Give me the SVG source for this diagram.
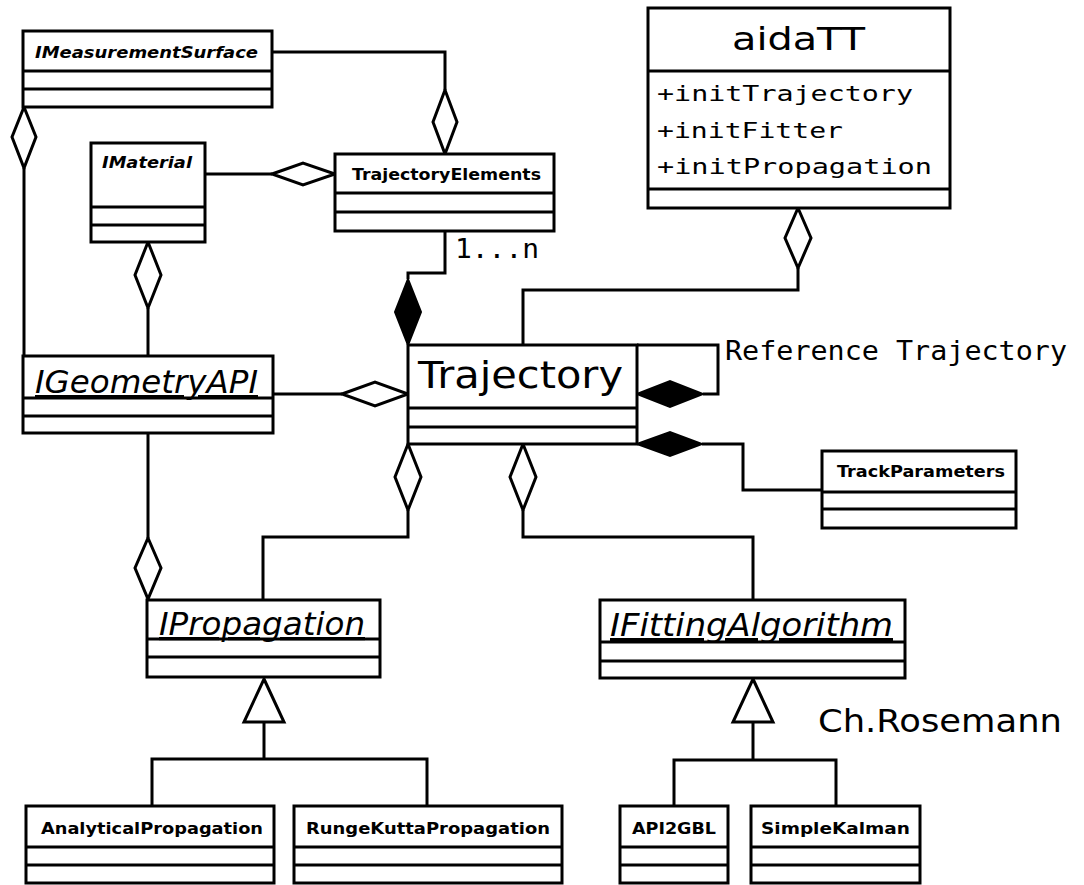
<svg xmlns="http://www.w3.org/2000/svg" width="1084" height="885" viewBox="0 0 1084 885">
  <style>
    .box { fill: #fff; stroke: #000; stroke-width: 3; }
    .sep { stroke: #000; stroke-width: 3; }
    .wire { fill: none; stroke: #000; stroke-width: 3; stroke-linejoin: miter; }
    .agg { fill: #fff; stroke: #000; stroke-width: 3; stroke-linejoin: miter; }
    .comp { fill: #000; stroke: #000; stroke-width: 2; stroke-linejoin: miter; }
    .gen { fill: #fff; stroke: #000; stroke-width: 3; stroke-linejoin: miter; }
    .small { font-family: "DejaVu Sans", sans-serif; font-weight: bold; font-size: 16px; fill: #000; }
    .smallit { font-family: "DejaVu Sans", sans-serif; font-weight: bold; font-style: italic; font-size: 15px; fill: #000; }
    .abs { font-family: "DejaVu Sans", sans-serif; font-style: italic; font-size: 32px; fill: #000; text-decoration: underline; }
    .big { font-family: "DejaVu Sans", sans-serif; font-size: 38px; fill: #000; }
    .mono { font-family: "DejaVu Sans Mono", monospace; font-size: 21px; fill: #000; }
    .label { font-family: "DejaVu Sans Mono", monospace; font-size: 26px; fill: #000; }
    .sign { font-family: "DejaVu Sans", sans-serif; font-size: 32px; fill: #000; }
  </style>

  <!-- connectors -->
  <g id="connectors">
    <!-- IMeasurementSurface -> TrajectoryElements -->
    <polyline class="wire" points="272,52 445,52 445,90"/>
    <polygon class="agg" points="445,90 457,122 445,154 433,122"/>
    <!-- IMeasurementSurface -> IGeometryAPI -->
    <polygon class="agg" points="24,107 36,137 24,168 12,137"/>
    <polyline class="wire" points="24,168 24,356"/>
    <!-- IMaterial -> TrajectoryElements -->
    <polyline class="wire" points="205,174 272,174"/>
    <polygon class="agg" points="272,174 303,163 335,174 303,185"/>
    <!-- IMaterial -> IGeometryAPI -->
    <polygon class="agg" points="148,242 161,275 148,308 135,275"/>
    <polyline class="wire" points="148,308 148,356"/>
    <!-- TrajectoryElements -> Trajectory (1...n) -->
    <polyline class="wire" points="445,231 445,273 408,273 408,279"/>
    <polygon class="comp" points="408,279 421,312 408,345 395,312"/>
    <!-- aidaTT -> Trajectory -->
    <polygon class="agg" points="798,208 811,238 798,268 785,238"/>
    <polyline class="wire" points="798,268 798,290 523,290 523,345"/>
    <!-- IGeometryAPI -> Trajectory -->
    <polyline class="wire" points="273,394 342,394"/>
    <polygon class="agg" points="342,394 375,382 408,394 375,406"/>
    <!-- Reference Trajectory self loop -->
    <polygon class="comp" points="637,394 670,381 703,394 670,407"/>
    <polyline class="wire" points="703,394 718,394 718,345 637,345"/>
    <!-- Trajectory -> TrackParameters -->
    <polygon class="comp" points="637,444 670,432 702,444 670,456"/>
    <polyline class="wire" points="702,444 743,444 743,490 822,490"/>
    <!-- Trajectory -> IPropagation -->
    <polygon class="agg" points="408,444 421,477 408,510 395,477"/>
    <polyline class="wire" points="408,510 408,537 263,537 263,600"/>
    <!-- Trajectory -> IFittingAlgorithm -->
    <polygon class="agg" points="523,444 536,477 523,510 510,477"/>
    <polyline class="wire" points="523,510 523,537 753,537 753,600"/>
    <!-- IGeometryAPI -> IPropagation -->
    <polyline class="wire" points="148,433 148,538"/>
    <polygon class="agg" points="148,538 161,568 148,599 135,568"/>
    <!-- IPropagation generalization -->
    <polygon class="gen" points="264,679 284,722 244,722"/>
    <polyline class="wire" points="264,722 264,759"/>
    <polyline class="wire" points="152,806 152,759 427,759 427,806"/>
    <!-- IFittingAlgorithm generalization -->
    <polygon class="gen" points="753,679 773,722 733,722"/>
    <polyline class="wire" points="753,722 753,760"/>
    <polyline class="wire" points="674,806 674,760 836,760 836,806"/>
    <!-- multiplicity / role labels -->
    <text class="label" x="455" y="258" textLength="84" lengthAdjust="spacingAndGlyphs">1...n</text>
    <text class="label" x="725" y="360" textLength="342" lengthAdjust="spacingAndGlyphs">Reference Trajectory</text>
  </g>

  <g id="IMeasurementSurface">
    <rect class="box" x="23" y="31" width="249" height="76"/>
    <line class="sep" x1="23" y1="71" x2="272" y2="71"/>
    <line class="sep" x1="23" y1="89" x2="272" y2="89"/>
    <text class="smallit" x="35" y="58" textLength="223" lengthAdjust="spacingAndGlyphs">IMeasurementSurface</text>
  </g>

  <g id="IMaterial">
    <rect class="box" x="91" y="143" width="114" height="99"/>
    <line class="sep" x1="91" y1="207" x2="205" y2="207"/>
    <line class="sep" x1="91" y1="225" x2="205" y2="225"/>
    <text class="smallit" x="102" y="168" textLength="90" lengthAdjust="spacingAndGlyphs">IMaterial</text>
  </g>

  <g id="TrajectoryElements">
    <rect class="box" x="335" y="154" width="219" height="77"/>
    <line class="sep" x1="335" y1="193" x2="554" y2="193"/>
    <line class="sep" x1="335" y1="212" x2="554" y2="212"/>
    <text class="small" x="352" y="180" textLength="189" lengthAdjust="spacingAndGlyphs">TrajectoryElements</text>
  </g>

  <g id="aidaTT">
    <rect class="box" x="648" y="8" width="302" height="200"/>
    <line class="sep" x1="648" y1="71" x2="950" y2="71"/>
    <line class="sep" x1="648" y1="189" x2="950" y2="189"/>
    <text class="sign" x="732" y="50" font-size="35" textLength="133" lengthAdjust="spacingAndGlyphs">aidaTT</text>
    <text class="mono" x="657" y="101" textLength="256" lengthAdjust="spacingAndGlyphs">+initTrajectory</text>
    <text class="mono" x="657" y="138" textLength="186" lengthAdjust="spacingAndGlyphs">+initFitter</text>
    <text class="mono" x="657" y="174" textLength="275" lengthAdjust="spacingAndGlyphs">+initPropagation</text>
  </g>

  <g id="IGeometryAPI">
    <rect class="box" x="23" y="356" width="250" height="77"/>
    <line class="sep" x1="23" y1="398" x2="273" y2="398"/>
    <line class="sep" x1="23" y1="416" x2="273" y2="416"/>
    <text class="abs" x="35" y="393" textLength="223" lengthAdjust="spacingAndGlyphs">IGeometryAPI</text>
  </g>

  <g id="Trajectory">
    <rect class="box" x="408" y="345" width="229" height="99"/>
    <line class="sep" x1="408" y1="408" x2="637" y2="408"/>
    <line class="sep" x1="408" y1="427" x2="637" y2="427"/>
    <text class="big" x="418" y="388" textLength="205" lengthAdjust="spacingAndGlyphs">Trajectory</text>
  </g>

  <g id="TrackParameters">
    <rect class="box" x="822" y="451" width="194" height="77"/>
    <line class="sep" x1="822" y1="492" x2="1016" y2="492"/>
    <line class="sep" x1="822" y1="509" x2="1016" y2="509"/>
    <text class="small" x="837" y="477" textLength="168" lengthAdjust="spacingAndGlyphs">TrackParameters</text>
  </g>

  <g id="IPropagation">
    <rect class="box" x="147" y="600" width="233" height="77"/>
    <line class="sep" x1="147" y1="639" x2="380" y2="639"/>
    <line class="sep" x1="147" y1="657" x2="380" y2="657"/>
    <text class="abs" x="159" y="635" textLength="206" lengthAdjust="spacingAndGlyphs">IPropagation</text>
  </g>

  <g id="IFittingAlgorithm">
    <rect class="box" x="600" y="600" width="305" height="78"/>
    <line class="sep" x1="600" y1="642" x2="905" y2="642"/>
    <line class="sep" x1="600" y1="661" x2="905" y2="661"/>
    <text class="abs" x="610" y="636" textLength="283" lengthAdjust="spacingAndGlyphs">IFittingAlgorithm</text>
  </g>

  <g id="AnalyticalPropagation">
    <rect class="box" x="26" y="806" width="248" height="77"/>
    <line class="sep" x1="26" y1="847" x2="274" y2="847"/>
    <line class="sep" x1="26" y1="865" x2="274" y2="865"/>
    <text class="small" x="41" y="834" textLength="222" lengthAdjust="spacingAndGlyphs">AnalyticalPropagation</text>
  </g>

  <g id="RungeKuttaPropagation">
    <rect class="box" x="294" y="806" width="268" height="77"/>
    <line class="sep" x1="294" y1="847" x2="562" y2="847"/>
    <line class="sep" x1="294" y1="865" x2="562" y2="865"/>
    <text class="small" x="306" y="834" textLength="244" lengthAdjust="spacingAndGlyphs">RungeKuttaPropagation</text>
  </g>

  <g id="API2GBL">
    <rect class="box" x="620" y="806" width="108" height="77"/>
    <line class="sep" x1="620" y1="847" x2="728" y2="847"/>
    <line class="sep" x1="620" y1="865" x2="728" y2="865"/>
    <text class="small" x="632" y="834" textLength="84" lengthAdjust="spacingAndGlyphs">API2GBL</text>
  </g>

  <g id="SimpleKalman">
    <rect class="box" x="751" y="806" width="169" height="77"/>
    <line class="sep" x1="751" y1="847" x2="920" y2="847"/>
    <line class="sep" x1="751" y1="865" x2="920" y2="865"/>
    <text class="small" x="761" y="834" textLength="149" lengthAdjust="spacingAndGlyphs">SimpleKalman</text>
  </g>

  <g id="author">
    <text class="sign" x="818" y="732" font-size="33" textLength="244" lengthAdjust="spacingAndGlyphs">Ch.Rosemann</text>
  </g>
</svg>
